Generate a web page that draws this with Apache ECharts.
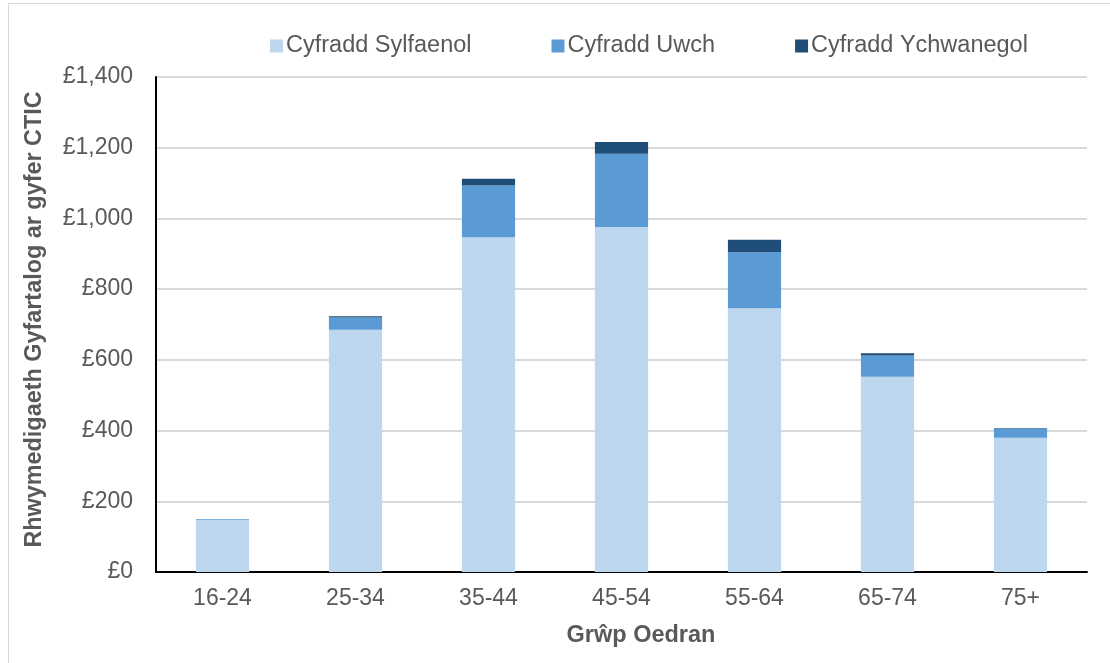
<!DOCTYPE html>
<html>
<head>
<meta charset="utf-8">
<script src="https://cdn.jsdelivr.net/npm/echarts@6/dist/echarts.min.js"></script>
<style>
  html, body { margin: 0; padding: 0; background: #fff; overflow: hidden; }
  #frame { position: absolute; left: 8px; top: 3px; width: 1200px; height: 800px; border: 1px solid #d9d9d9; }
  #chart { position: absolute; left: 0; top: 0; width: 1110px; height: 663px; }
</style>
</head>
<body>
<div id="frame"></div>
<div id="chart"></div>
<script>
const categories = ["16-24", "25-34", "35-44", "45-54", "55-64", "65-74", "75+"];
const sylfaenol = [148, 685, 947, 976, 746, 552, 380];
const uwch = [2, 35, 146, 207, 158, 60, 26];
const ychwanegol = [0, 3, 19, 33, 36, 7, 1];
const seriesNames = ["Cyfradd Sylfaenol", "Cyfradd Uwch", "Cyfradd Ychwanegol"];
const colors = ["#BDD7EE", "#5B9BD5", "#1F4E79"];

const chart = echarts.init(document.getElementById("chart"));

const font = "Liberation Sans, Arial, sans-serif";

chart.setOption({
  animation: false,
  textStyle: { fontFamily: font },
  legend: {
    top: 29,
    left: 265,
    itemWidth: 13,
    itemHeight: 13,
    itemGap: 80,
    icon: "rect",
    textStyle: { fontSize: 23.5, color: "#595959", fontFamily: font, padding: [0, 0, 0, -2] },
    data: seriesNames
  },
  grid: { left: 156, right: 23, top: 77, bottom: 91 },
  xAxis: {
    type: "category",
    data: categories,
    name: "Grŵp Oedran",
    nameLocation: "middle",
    nameGap: 52,
    nameTextStyle: { fontSize: 23.5, fontWeight: "bold", color: "#595959", fontFamily: font, padding: [0, 0, 0, 39] },
    axisLine: { lineStyle: { color: "#000", width: 2 } },
    axisTick: { show: false },
    axisLabel: { fontSize: 23, color: "#595959", margin: 15 }
  },
  yAxis: {
    type: "value",
    min: 0,
    max: 1400,
    interval: 200,
    name: "Rhwymedigaeth Gyfartalog ar gyfer CTIC",
    nameLocation: "middle",
    nameGap: 110,
    nameTextStyle: { fontSize: 23.4, fontWeight: "bold", color: "#595959", fontFamily: font, padding: [0, 0, 0, 10] },
    axisLine: { show: true, lineStyle: { color: "#000", width: 2 } },
    axisLabel: {
      fontSize: 23,
      color: "#595959",
      margin: 23,
      formatter: v => "£" + v.toLocaleString("en-GB")
    },
    splitLine: { lineStyle: { color: "#d9d9d9", width: 2 } }
  },
  series: [
    { name: seriesNames[0], type: "bar", stack: "t", data: sylfaenol, barWidth: "40%", itemStyle: { color: colors[0] } },
    { name: seriesNames[1], type: "bar", stack: "t", data: uwch, itemStyle: { color: colors[1] } },
    { name: seriesNames[2], type: "bar", stack: "t", data: ychwanegol, itemStyle: { color: colors[2] } }
  ]
});
</script>
</body>
</html>
